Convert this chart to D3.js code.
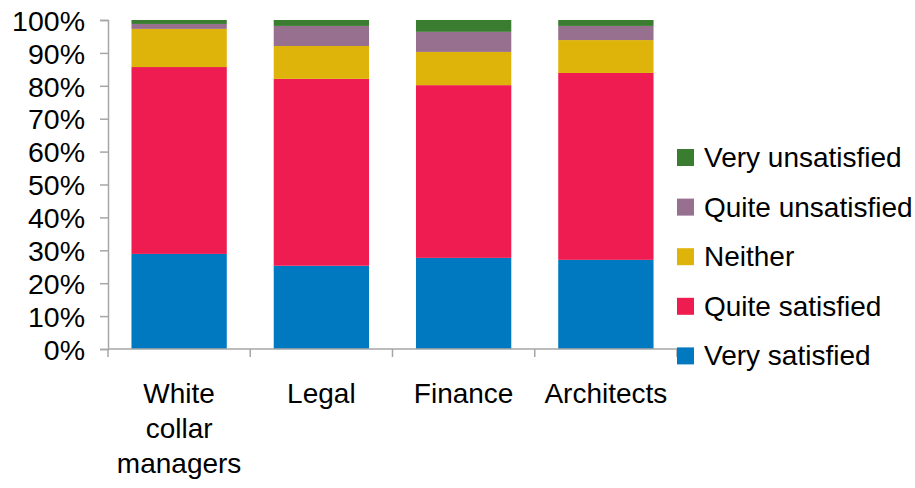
<!DOCTYPE html>
<html>
<head>
<meta charset="utf-8">
<script src="https://cdn.jsdelivr.net/npm/d3@7"></script>
<style>
  html, body { margin: 0; padding: 0; background: #fff; }
  svg text { font-family: "Liberation Sans", Arial, sans-serif; fill: #000; }
</style>
</head>
<body>
<svg id="chart" width="915" height="488"></svg>
<script>
// Job satisfaction by occupation group (share of respondents, %)
const categories = [["White", "collar", "managers"], ["Legal"], ["Finance"], ["Architects"]];
const seriesNames = ["Very satisfied", "Quite satisfied", "Neither", "Quite unsatisfied", "Very unsatisfied"];
const verySatisfied    = [28.9, 25.3, 27.7, 27.1];
const quiteSatisfied   = [56.8, 56.8, 52.5, 56.8];
const neither          = [11.6, 10.0, 10.1, 10.0];
const quiteUnsatisfied = [1.5, 6.1, 6.1, 4.3];
const veryUnsatisfied  = [1.2, 1.8, 3.6, 1.8];
const yTicks = [0, 10, 20, 30, 40, 50, 60, 70, 80, 90, 100];
const colors = ["#0079c1", "#ee1c50", "#dfb40a", "#977090", "#3a7c30"];

const seriesValues = [verySatisfied, quiteSatisfied, neither, quiteUnsatisfied, veryUnsatisfied];
const keys = categories.map(c => c.join(" "));
const rows = keys.map((k, i) => {
  const r = { key: k };
  seriesNames.forEach((s, j) => { r[s] = seriesValues[j][i]; });
  return r;
});
const stacked = d3.stack().keys(seriesNames)(rows);

const svg = d3.select("#chart");
const plotLeft = 108, plotRight = 677, plotTop = 20, plotBottom = 349;

const x = d3.scaleBand().domain(keys).range([plotLeft, plotRight]).paddingInner(0.33).paddingOuter(0.165);
const y = d3.scaleLinear().domain([0, 100]).range([plotBottom, plotTop]);
const color = d3.scaleOrdinal().domain(seriesNames).range(colors);

// stacked bars
svg.append("g").selectAll("g").data(stacked).join("g")
  .attr("fill", d => color(d.key))
  .selectAll("rect").data(d => d).join("rect")
  .attr("x", d => x(d.data.key))
  .attr("width", x.bandwidth())
  .attr("y", d => y(d[1]))
  .attr("height", d => y(d[0]) - y(d[1]));

const axisColor = "#a6a6a6";

// y axis
const yAxis = svg.append("g").attr("transform", `translate(${plotLeft},0)`)
  .call(d3.axisLeft(y).tickValues(yTicks).tickFormat(d => d + "%").tickSize(8).tickPadding(15));
yAxis.select(".domain").attr("stroke", axisColor).attr("stroke-width", 1.5);
yAxis.selectAll(".tick line").attr("stroke", axisColor).attr("stroke-width", 1.5);
yAxis.selectAll(".tick text").attr("font-size", 28.5)
  .attr("font-family", "Liberation Sans, Arial, sans-serif").attr("fill", "#000")
  .attr("dy", "0.36em");

// x axis: baseline with separators between categories
const xg = svg.append("g");
xg.append("line").attr("x1", plotLeft).attr("x2", plotRight).attr("y1", plotBottom).attr("y2", plotBottom)
  .attr("stroke", axisColor).attr("stroke-width", 1.5);
const step = x.step();
const bounds = d3.range(keys.length + 1).map(i => x(keys[0]) - x.paddingOuter() * step + i * step);
xg.selectAll("line.sep").data(bounds).join("line").attr("class", "sep")
  .attr("x1", d => d).attr("x2", d => d).attr("y1", plotBottom).attr("y2", plotBottom + 8)
  .attr("stroke", axisColor).attr("stroke-width", 1.5);

// category labels
xg.selectAll("text.cat").data(categories).join("text").attr("class", "cat")
  .attr("text-anchor", "middle").attr("font-size", 28)
  .attr("x", (d, i) => x(keys[i]) + x.bandwidth() / 2)
  .attr("y", 403)
  .selectAll("tspan").data(d => d).join("tspan")
  .attr("x", function() { return d3.select(this.parentNode).attr("x"); })
  .attr("dy", (d, i) => i === 0 ? 0 : 35)
  .text(d => d);

// legend, top entry is the last series
const legend = svg.append("g");
const legendOrder = seriesNames.slice().reverse();
const lg = legend.selectAll("g").data(legendOrder).join("g")
  .attr("transform", (d, i) => `translate(677, ${149 + i * 49.6})`);
lg.append("rect").attr("width", 17).attr("height", 17).attr("fill", d => color(d));
lg.append("text").attr("x", 27).attr("y", 18).attr("font-size", 28).text(d => d);
</script>
</body>
</html>
